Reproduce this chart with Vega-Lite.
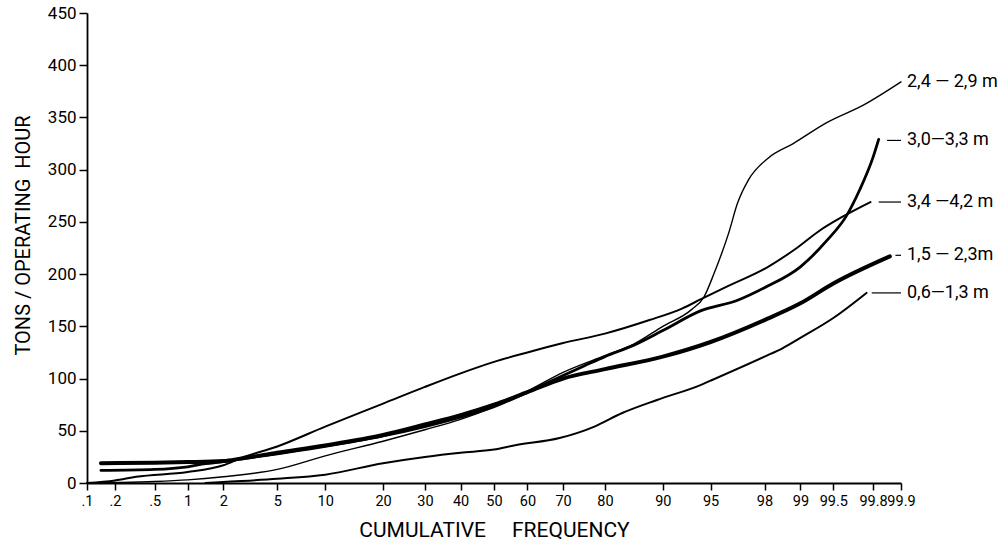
{
  "$schema": "https://vega.github.io/schema/vega-lite/v6.json",
  "width": 814,
  "height": 470,
  "autosize": "none",
  "padding": {"left": 87, "top": 13, "right": 105, "bottom": 61},
  "background": "white",
  "config": {
    "view": {"stroke": null},
    "font": "Roboto",
    "axis": {
      "grid": false,
      "domainColor": "black",
      "tickColor": "black",
      "labelColor": "black",
      "titleColor": "black",
      "domainWidth": 1.8,
      "tickWidth": 1.5,
      "labelFont": "Roboto",
      "titleFont": "Roboto",
      "labelFontSize": 17,
      "titleFontWeight": "normal"
    }
  },
  "datasets": {
    "curves": [
      {"s": "2,4 — 2,9 m", "p": 0.1, "v": 0},
      {"s": "2,4 — 2,9 m", "p": 0.2, "v": 0.5},
      {"s": "2,4 — 2,9 m", "p": 0.5, "v": 1.5},
      {"s": "2,4 — 2,9 m", "p": 1, "v": 3},
      {"s": "2,4 — 2,9 m", "p": 2, "v": 6},
      {"s": "2,4 — 2,9 m", "p": 5, "v": 13},
      {"s": "2,4 — 2,9 m", "p": 10, "v": 26},
      {"s": "2,4 — 2,9 m", "p": 20, "v": 40},
      {"s": "2,4 — 2,9 m", "p": 30, "v": 51},
      {"s": "2,4 — 2,9 m", "p": 40, "v": 61},
      {"s": "2,4 — 2,9 m", "p": 50, "v": 73},
      {"s": "2,4 — 2,9 m", "p": 60, "v": 88},
      {"s": "2,4 — 2,9 m", "p": 70, "v": 106},
      {"s": "2,4 — 2,9 m", "p": 80, "v": 122},
      {"s": "2,4 — 2,9 m", "p": 85, "v": 133},
      {"s": "2,4 — 2,9 m", "p": 90, "v": 150},
      {"s": "2,4 — 2,9 m", "p": 93, "v": 166},
      {"s": "2,4 — 2,9 m", "p": 94.3, "v": 178},
      {"s": "2,4 — 2,9 m", "p": 95.2, "v": 201},
      {"s": "2,4 — 2,9 m", "p": 96, "v": 239},
      {"s": "2,4 — 2,9 m", "p": 96.5, "v": 268},
      {"s": "2,4 — 2,9 m", "p": 97.1, "v": 290},
      {"s": "2,4 — 2,9 m", "p": 98.1, "v": 311},
      {"s": "2,4 — 2,9 m", "p": 98.8, "v": 325},
      {"s": "2,4 — 2,9 m", "p": 99.4, "v": 345},
      {"s": "2,4 — 2,9 m", "p": 99.73, "v": 362},
      {"s": "2,4 — 2,9 m", "p": 99.9, "v": 384},

      {"s": "3,0—3,3 m", "p": 0.15, "v": 12},
      {"s": "3,0—3,3 m", "p": 0.5, "v": 13},
      {"s": "3,0—3,3 m", "p": 1, "v": 15.5},
      {"s": "3,0—3,3 m", "p": 1.5, "v": 18.5},
      {"s": "3,0—3,3 m", "p": 2, "v": 20.5},
      {"s": "3,0—3,3 m", "p": 3, "v": 23},
      {"s": "3,0—3,3 m", "p": 5, "v": 28},
      {"s": "3,0—3,3 m", "p": 10, "v": 35},
      {"s": "3,0—3,3 m", "p": 20, "v": 45},
      {"s": "3,0—3,3 m", "p": 30, "v": 54},
      {"s": "3,0—3,3 m", "p": 40, "v": 63},
      {"s": "3,0—3,3 m", "p": 50, "v": 73},
      {"s": "3,0—3,3 m", "p": 60, "v": 87},
      {"s": "3,0—3,3 m", "p": 65, "v": 95},
      {"s": "3,0—3,3 m", "p": 70, "v": 103},
      {"s": "3,0—3,3 m", "p": 75, "v": 112},
      {"s": "3,0—3,3 m", "p": 80, "v": 121},
      {"s": "3,0—3,3 m", "p": 85, "v": 132},
      {"s": "3,0—3,3 m", "p": 90, "v": 146},
      {"s": "3,0—3,3 m", "p": 94, "v": 165},
      {"s": "3,0—3,3 m", "p": 96.5, "v": 175},
      {"s": "3,0—3,3 m", "p": 98, "v": 187},
      {"s": "3,0—3,3 m", "p": 99, "v": 207},
      {"s": "3,0—3,3 m", "p": 99.4, "v": 232},
      {"s": "3,0—3,3 m", "p": 99.6, "v": 256},
      {"s": "3,0—3,3 m", "p": 99.7, "v": 281},
      {"s": "3,0—3,3 m", "p": 99.8, "v": 312},
      {"s": "3,0—3,3 m", "p": 99.82, "v": 329},

      {"s": "3,4 —4,2 m", "p": 0.1, "v": 0},
      {"s": "3,4 —4,2 m", "p": 0.2, "v": 2.5},
      {"s": "3,4 —4,2 m", "p": 0.36, "v": 6},
      {"s": "3,4 —4,2 m", "p": 1, "v": 10.5},
      {"s": "3,4 —4,2 m", "p": 2, "v": 17},
      {"s": "3,4 —4,2 m", "p": 3, "v": 24},
      {"s": "3,4 —4,2 m", "p": 5, "v": 35},
      {"s": "3,4 —4,2 m", "p": 10, "v": 54},
      {"s": "3,4 —4,2 m", "p": 20, "v": 76},
      {"s": "3,4 —4,2 m", "p": 30, "v": 92},
      {"s": "3,4 —4,2 m", "p": 40, "v": 105},
      {"s": "3,4 —4,2 m", "p": 50, "v": 116},
      {"s": "3,4 —4,2 m", "p": 60, "v": 125},
      {"s": "3,4 —4,2 m", "p": 70, "v": 134},
      {"s": "3,4 —4,2 m", "p": 80, "v": 143},
      {"s": "3,4 —4,2 m", "p": 87.7, "v": 156},
      {"s": "3,4 —4,2 m", "p": 92, "v": 167},
      {"s": "3,4 —4,2 m", "p": 94, "v": 176},
      {"s": "3,4 —4,2 m", "p": 95.9, "v": 188},
      {"s": "3,4 —4,2 m", "p": 98.1, "v": 207},
      {"s": "3,4 —4,2 m", "p": 98.9, "v": 225},
      {"s": "3,4 —4,2 m", "p": 99.3, "v": 242},
      {"s": "3,4 —4,2 m", "p": 99.57, "v": 255},
      {"s": "3,4 —4,2 m", "p": 99.78, "v": 269},

      {"s": "1,5 — 2,3m", "p": 0.15, "v": 19},
      {"s": "1,5 — 2,3m", "p": 0.5, "v": 19.5},
      {"s": "1,5 — 2,3m", "p": 1, "v": 20},
      {"s": "1,5 — 2,3m", "p": 2, "v": 21},
      {"s": "1,5 — 2,3m", "p": 3, "v": 23.5},
      {"s": "1,5 — 2,3m", "p": 5, "v": 29},
      {"s": "1,5 — 2,3m", "p": 10, "v": 36},
      {"s": "1,5 — 2,3m", "p": 20, "v": 46},
      {"s": "1,5 — 2,3m", "p": 30, "v": 56},
      {"s": "1,5 — 2,3m", "p": 40, "v": 65},
      {"s": "1,5 — 2,3m", "p": 50, "v": 75},
      {"s": "1,5 — 2,3m", "p": 60, "v": 87},
      {"s": "1,5 — 2,3m", "p": 70, "v": 100},
      {"s": "1,5 — 2,3m", "p": 80, "v": 109},
      {"s": "1,5 — 2,3m", "p": 90, "v": 121},
      {"s": "1,5 — 2,3m", "p": 95, "v": 135},
      {"s": "1,5 — 2,3m", "p": 98, "v": 156},
      {"s": "1,5 — 2,3m", "p": 99, "v": 172},
      {"s": "1,5 — 2,3m", "p": 99.5, "v": 191},
      {"s": "1,5 — 2,3m", "p": 99.86, "v": 217},

      {"s": "0,6—1,3 m", "p": 1.5, "v": 0},
      {"s": "0,6—1,3 m", "p": 2, "v": 1},
      {"s": "0,6—1,3 m", "p": 5, "v": 4},
      {"s": "0,6—1,3 m", "p": 10, "v": 8},
      {"s": "0,6—1,3 m", "p": 20, "v": 19},
      {"s": "0,6—1,3 m", "p": 30, "v": 25},
      {"s": "0,6—1,3 m", "p": 40, "v": 29},
      {"s": "0,6—1,3 m", "p": 50, "v": 32},
      {"s": "0,6—1,3 m", "p": 56, "v": 36},
      {"s": "0,6—1,3 m", "p": 69, "v": 43},
      {"s": "0,6—1,3 m", "p": 77.5, "v": 54},
      {"s": "0,6—1,3 m", "p": 83, "v": 67},
      {"s": "0,6—1,3 m", "p": 89, "v": 79.5},
      {"s": "0,6—1,3 m", "p": 94, "v": 94},
      {"s": "0,6—1,3 m", "p": 95, "v": 98},
      {"s": "0,6—1,3 m", "p": 98, "v": 121},
      {"s": "0,6—1,3 m", "p": 98.5, "v": 129},
      {"s": "0,6—1,3 m", "p": 99, "v": 139},
      {"s": "0,6—1,3 m", "p": 99.5, "v": 158},
      {"s": "0,6—1,3 m", "p": 99.75, "v": 182}
    ],
    "leaders": [
      {"s": "3,0—3,3 m", "p": 99.85, "p1": 99.9, "v": 328},
      {"s": "3,4 —4,2 m", "p": 99.82, "p1": 99.9, "v": 269},
      {"s": "1,5 — 2,3m", "p": 99.88, "p1": 99.9, "v": 218},
      {"s": "0,6—1,3 m", "p": 99.79, "p1": 99.9, "v": 182}
    ],
    "labels": [
      {"t": "2,4 — 2,9 m", "p": 99.9, "v": 384},
      {"t": "3,0—3,3 m", "p": 99.9, "v": 328},
      {"t": "3,4 —4,2 m", "p": 99.9, "v": 269},
      {"t": "1,5 — 2,3m", "p": 99.9, "v": 218},
      {"t": "0,6—1,3 m", "p": 99.9, "v": 182}
    ]
  },
  "layer": [
    {
      "data": {"name": "curves"},
      "mark": {"type": "line", "interpolate": "monotone", "color": "black", "strokeCap": "round"},
      "encoding": {
        "x": {
          "field": "p",
          "type": "quantitative",
          "scale": {
            "type": "linear",
            "domain": [0.1, 0.2, 0.5, 1, 2, 5, 10, 20, 30, 40, 50, 60, 70, 80, 90, 95, 98, 99, 99.5, 99.8, 99.9],
            "range": [0, 27.9, 67.7, 100.6, 136.4, 190.3, 238.2, 296.1, 337.9, 373.6, 407, 440.4, 476.1, 517.9, 575.8, 623.6, 677.5, 713.4, 746.3, 786.1, 814],
            "nice": false,
            "zero": false
          },
          "axis": {
            "title": "CUMULATIVE\u00a0\u00a0\u00a0\u00a0\u00a0FREQUENCY",
            "titleFontSize": 21,
            "titlePadding": 12,
            "values": [0.1, 0.2, 0.5, 1, 2, 5, 10, 20, 30, 40, 50, 60, 70, 80, 90, 95, 98, 99, 99.5, 99.8, 99.9],
            "labelExpr": "datum.value < 1 ? replace(toString(datum.value), '0.', '.') : toString(datum.value)",
            "labelFontSize": 14.5,
            "tickSize": 7,
            "labelPadding": 4,
            "labelOverlap": false,
            "labelFlush": false
          }
        },
        "y": {
          "field": "v",
          "type": "quantitative",
          "scale": {"domain": [0, 450], "nice": false, "zero": true},
          "axis": {
            "title": "TONS / OPERATING\u00a0\u00a0HOUR",
            "titleFontSize": 20,
            "titlePadding": 14,
            "titleY": 222,
            "values": [0, 50, 100, 150, 200, 250, 300, 350, 400, 450],
            "tickSize": 8,
            "labelPadding": 3
          }
        },
        "strokeWidth": {
          "field": "s",
          "type": "nominal",
          "scale": {
            "type": "ordinal",
            "domain": ["2,4 — 2,9 m", "3,0—3,3 m", "3,4 —4,2 m", "1,5 — 2,3m", "0,6—1,3 m"],
            "range": [1.4, 2.8, 2, 4, 2]
          },
          "legend": null
        }
      }
    },
    {
      "data": {"name": "leaders"},
      "mark": {"type": "rule", "color": "black", "strokeWidth": 1.2},
      "encoding": {
        "x": {"field": "p", "type": "quantitative"},
        "x2": {"field": "p1"},
        "y": {"field": "v", "type": "quantitative"}
      }
    },
    {
      "data": {"name": "labels"},
      "mark": {"type": "text", "align": "left", "baseline": "middle", "dx": 6, "fontSize": 18, "font": "Roboto", "color": "black"},
      "encoding": {
        "x": {"field": "p", "type": "quantitative"},
        "y": {"field": "v", "type": "quantitative"},
        "text": {"field": "t"}
      }
    }
  ]
}
